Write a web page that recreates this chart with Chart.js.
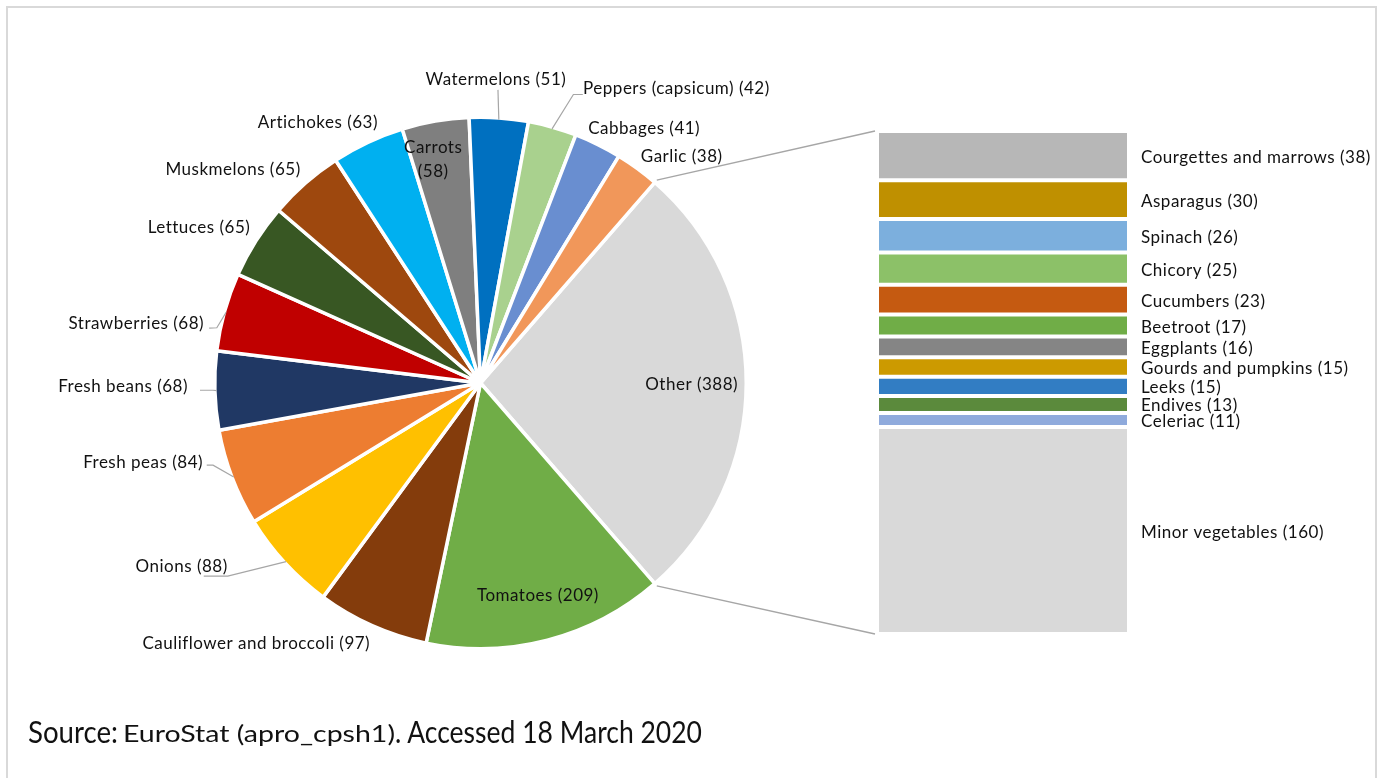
<!DOCTYPE html>
<html>
<head>
<meta charset="utf-8">
<title>Vegetable production in the EU</title>
<script src="https://cdn.jsdelivr.net/npm/chart.js@4.4.1/dist/chart.umd.min.js"></script>
<style>
  html, body { margin: 0; padding: 0; background: #fff; }
  #frame {
    position: absolute; left: 6px; top: 6px; width: 1371px; height: 800px;
    border: 2px solid #d9d9d9; box-sizing: border-box; overflow: hidden;
  }
  #frame canvas { position: absolute; left: -8px; top: -8px; }
  .src {
    position: absolute; white-space: nowrap; line-height: 1;
    font-family: Lato, "Open Sans", sans-serif; color: #111;
    transform-origin: left top;
  }
</style>
</head>
<body>
<div id="frame">
  <canvas id="pieChart" width="1380" height="778"></canvas>
  <canvas id="barChart" width="1380" height="778"></canvas>
</div>
<span class="src" data-w="90"  style="left:28px;  top:716px; font-size:30px;">Source:</span>
<span class="src" data-w="272" style="left:123px; top:721px; font-size:24px;">EuroStat (apro_cpsh1)</span>
<span class="src" data-w="307" style="left:395px; top:716px; font-size:30px;">. Accessed 18 March 2020</span>

<script>
// Main crops (pie), the first slice is the "Other" group broken out in the column
const pieNames = ['Other', 'Tomatoes', 'Cauliflower and broccoli', 'Onions', 'Fresh peas',
  'Fresh beans', 'Strawberries', 'Lettuces', 'Muskmelons', 'Artichokes', 'Carrots',
  'Watermelons', 'Peppers (capsicum)', 'Cabbages', 'Garlic'];
const pieValues = [388, 209, 97, 88, 84, 68, 68, 65, 65, 63, 58, 51, 42, 41, 38];
const pieColors = ['#D9D9D9', '#70AD47', '#843C0C', '#FFC000', '#ED7D31', '#203864',
  '#C00000', '#385723', '#9E480E', '#00B0F0', '#7F7F7F', '#0070C0', '#A9D18E',
  '#698ED0', '#F1975A'];

// Breakdown of "Other" (stacked column)
const otherNames = ['Courgettes and marrows', 'Asparagus', 'Spinach', 'Chicory', 'Cucumbers',
  'Beetroot', 'Eggplants', 'Gourds and pumpkins', 'Leeks', 'Endives', 'Celeriac',
  'Minor vegetables'];
const otherValues = [38, 30, 26, 25, 23, 17, 16, 15, 15, 13, 11, 160];
const otherColors = ['#B7B7B7', '#BF9000', '#7CAFDD', '#8CC168', '#C55A11', '#70AD47',
  '#858585', '#CC9A00', '#327DC3', '#5B8A3C', '#8FAADC', '#D9D9D9'];

const FONT = '17px Lato, "Open Sans", sans-serif';
const LETTER_SPACING = '0.5px';
const TEXT_DY = 1.5;   // optical centring of the label text
const TEXT = '#111';
const SLICE_BORDER = 3.5;
const LEADER = '#A6A6A6';

// Fit each piece of the source line to its width
document.querySelectorAll('.src').forEach(el => {
  const w = el.getBoundingClientRect().width;
  el.style.transform = 'scaleX(' + (Number(el.dataset.w) / w) + ')';
});

// Label placement around the pie: angle shift from the slice middle (deg),
// distance as a share of the radius, which side of the text sits on the anchor,
// and optional leader line (elbow and tail offsets from the anchor).
const pieLabelPlacement = [
  { da: 0,    rf: 0.80,  side: 'center' },
  { da: -0.6, rf: 0.83,  side: 'center' },
  { da: -1,   rf: 1.067, side: 'right' },
  { da: 6.8,  rf: 1.18,  side: 'right', elbow: [0, 11], tail: [-24, 11] },
  { da: 5.1,  rf: 1.092, side: 'right', elbow: [10, 4], tail: [3.7, 4] },
  { da: 1.2,  rf: 1.108, side: 'right', elbow: [25, 5], tail: [12, 5] },
  { da: -3.1, rf: 1.072, side: 'right', elbow: [12.7, 5.7], tail: [5, 6] },
  { da: 2,    rf: 1.056, side: 'right' },
  { da: 1.3,  rf: 1.061, side: 'right' },
  { da: 3.7,  rf: 1.066, side: 'right' },
  { da: -2.1, rf: 0.87,  side: 'center', split: true },
  { da: -1,   rf: 1.127, side: 'above', elbow: [2, 4], tail: [2, 4] },
  { da: 3.4,  rf: 1.186, side: 'left', elbow: [-9.7, 7.3], tail: [-0.3, 7.3] },
  { da: -3.4, rf: 1.052, side: 'left' },
  { da: -1.1, rf: 1.056, side: 'left' }
];

function setTextStyle(ctx) {
  ctx.font = FONT;
  ctx.fillStyle = TEXT;
  if ('letterSpacing' in ctx) ctx.letterSpacing = LETTER_SPACING;
}

const pieLabelsPlugin = {
  id: 'pieLabels',
  afterDatasetsDraw(chart) {
    const ctx = chart.ctx;
    const meta = chart.getDatasetMeta(0);
    ctx.save();
    setTextStyle(ctx);
    meta.data.forEach((arc, i) => {
      const p = pieLabelPlacement[i];
      const { x, y, startAngle, endAngle, outerRadius } =
        arc.getProps(['x', 'y', 'startAngle', 'endAngle', 'outerRadius'], true);
      const R = outerRadius - SLICE_BORDER / 2;
      const mid = (startAngle + endAngle) / 2;
      const a = mid + p.da * Math.PI / 180;
      const ax = x + Math.cos(a) * R * p.rf;
      const ay = y + Math.sin(a) * R * p.rf;

      if (p.elbow) {
        ctx.save();
        ctx.strokeStyle = LEADER;
        ctx.lineWidth = 1.2;
        ctx.beginPath();
        ctx.moveTo(x + Math.cos(mid) * R, y + Math.sin(mid) * R);
        ctx.lineTo(ax + p.elbow[0], ay + p.elbow[1]);
        ctx.lineTo(ax + p.tail[0], ay + p.tail[1]);
        ctx.stroke();
        ctx.restore();
      }

      const lines = p.split
        ? [pieNames[i], '(' + pieValues[i] + ')']
        : [pieNames[i] + ' (' + pieValues[i] + ')'];
      const lh = 24;
      ctx.textBaseline = 'middle';
      let ty = ay + TEXT_DY;
      if (p.side === 'right') ctx.textAlign = 'right';
      else if (p.side === 'left') ctx.textAlign = 'left';
      else ctx.textAlign = 'center';
      if (p.side === 'above') ty -= 8;
      const y0 = ty - (lines.length - 1) * lh / 2;
      lines.forEach((t, k) => ctx.fillText(t, ax, y0 + k * lh));
    });
    ctx.restore();
  }
};

const pieChart = new Chart(document.getElementById('pieChart'), {
  type: 'pie',
  data: {
    labels: pieNames,
    datasets: [{
      data: pieValues,
      backgroundColor: pieColors,
      borderColor: '#FFFFFF',
      borderWidth: SLICE_BORDER,
      hoverOffset: 0,
      offset: 0
    }]
  },
  options: {
    responsive: false,
    animation: false,
    // centre the "Other" slice on the right-hand side
    rotation: 90 - (pieValues[0] / pieValues.reduce((s, v) => s + v, 0)) * 180,
    layout: { padding: { left: 213, top: 115.5, right: 632, bottom: 127.5 } },
    plugins: { legend: { display: false }, tooltip: { enabled: false } }
  },
  plugins: [pieLabelsPlugin]
});

const otherTotal = otherValues.reduce((s, v) => s + v, 0);

const barLabelsPlugin = {
  id: 'barLabels',
  afterDatasetsDraw(chart) {
    const ctx = chart.ctx;
    ctx.save();
    setTextStyle(ctx);
    ctx.textAlign = 'left';
    ctx.textBaseline = 'middle';
    chart.data.datasets.forEach((ds, i) => {
      const el = chart.getDatasetMeta(i).data[0];
      const cy = (el.y + el.base) / 2 + TEXT_DY;
      ctx.fillText(otherNames[i] + ' (' + otherValues[i] + ')', el.x + el.width / 2 + 14, cy);
    });
    ctx.restore();
  }
};

// Lines joining the "Other" slice to the top and bottom of the column
const connectorPlugin = {
  id: 'connectors',
  afterDatasetsDraw(chart) {
    const arc = pieChart.getDatasetMeta(0).data[0];
    const { x, y, startAngle, endAngle, outerRadius } =
      arc.getProps(['x', 'y', 'startAngle', 'endAngle', 'outerRadius'], true);
    const first = chart.getDatasetMeta(0).data[0];
    const last = chart.getDatasetMeta(chart.data.datasets.length - 1).data[0];
    const left = first.x - first.width / 2 - 4;
    const top = Math.min(first.y, first.base);
    const bottom = Math.max(last.y, last.base);
    const r = outerRadius + 3;
    const ctx = chart.ctx;
    ctx.save();
    ctx.strokeStyle = LEADER;
    ctx.lineWidth = 1.5;
    ctx.beginPath();
    ctx.moveTo(x + Math.cos(startAngle) * r, y + Math.sin(startAngle) * r);
    ctx.lineTo(left, top);
    ctx.moveTo(x + Math.cos(endAngle) * r, y + Math.sin(endAngle) * r);
    ctx.lineTo(left, bottom);
    ctx.stroke();
    ctx.restore();
  }
};

new Chart(document.getElementById('barChart'), {
  type: 'bar',
  data: {
    labels: [''],
    datasets: otherNames.map((n, i) => ({
      label: n,
      data: [otherValues[i]],
      backgroundColor: otherColors[i],
      borderColor: '#FFFFFF',
      borderWidth: { top: 2, bottom: 2, left: 0, right: 0 },
      borderSkipped: false,
      inflateAmount: 0,
      barPercentage: 1,
      categoryPercentage: 1
    }))
  },
  options: {
    responsive: false,
    animation: false,
    layout: { padding: { left: 879, right: 253, top: 131, bottom: 144 } },
    plugins: { legend: { display: false }, tooltip: { enabled: false } },
    scales: {
      x: { stacked: true, display: false },
      y: { stacked: true, display: false, reverse: true, min: 0, max: otherTotal }
    }
  },
  plugins: [barLabelsPlugin, connectorPlugin]
});
</script>
</body>
</html>
